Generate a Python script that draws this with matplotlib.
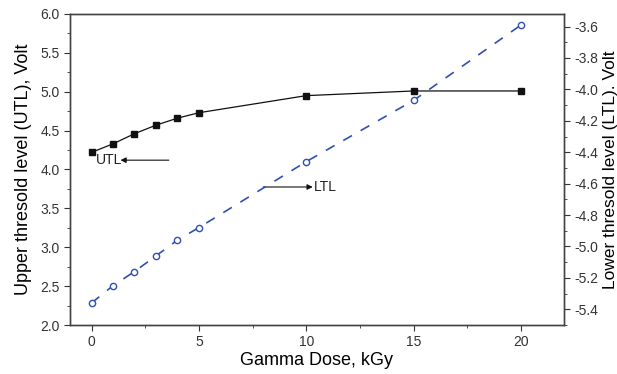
import matplotlib.pyplot as plt
from matplotlib.ticker import MultipleLocator

plt.rcParams['font.family'] = ['Liberation Sans', 'DejaVu Sans']
plt.rcParams['axes.unicode_minus'] = False

dose = [0, 1, 2, 3, 4, 5, 10, 15, 20]
utl = [4.22, 4.33, 4.46, 4.57, 4.66, 4.73, 4.95, 5.01, 5.01]
ltl = [-5.36, -5.25, -5.16, -5.06, -4.96, -4.88, -4.46, -4.07, -3.59]

fig = plt.figure(figsize=(6.17, 3.74), dpi=100)
ax = fig.add_axes([0.1135, 0.131, 0.8005, 0.8316])
ax2 = ax.twinx()

ax.plot(dose, utl, 's-', color='#111111', lw=0.9, ms=5)
ax2.plot(dose, ltl, 'o', ls=(0, (6, 6)), color='#3050b0', lw=1.2, ms=4.5,
         mfc='white', mec='#3050b0', mew=1.0)

ax.set_xlim(-1, 22)
ax.set_ylim(2.0, 6.0)
ax2.set_ylim(-5.5, -3.52)

ax.xaxis.set_major_locator(MultipleLocator(5))
ax.xaxis.set_minor_locator(MultipleLocator(2.5))
ax.yaxis.set_major_locator(MultipleLocator(0.5))
ax.yaxis.set_minor_locator(MultipleLocator(0.25))
ax2.yaxis.set_major_locator(MultipleLocator(0.2))
ax2.yaxis.set_minor_locator(MultipleLocator(0.1))
ax.yaxis.set_major_formatter('{x:.1f}')
ax2.yaxis.set_major_formatter('{x:.1f}')

for a in (ax, ax2):
    a.tick_params(which='both', direction='out', colors='#333333',
                  labelcolor='#333333', labelsize=10)
    a.tick_params(which='major', length=4)
    a.tick_params(which='minor', length=2.5)
    for s in a.spines.values():
        s.set_color('#444444')
        s.set_linewidth(1.0)

ax.set_xlabel('Gamma Dose, kGy', fontsize=13, labelpad=2)
ax.set_ylabel('Upper thresold level (UTL), Volt', fontsize=13, labelpad=6)
ax2.set_ylabel('Lower thresold level (LTL). Volt', fontsize=12.5, labelpad=3)

ax.annotate('', xy=(1.35, 4.12), xytext=(3.6, 4.12),
            arrowprops=dict(arrowstyle='-|>', color='#111111', lw=0.8,
                            mutation_scale=8, shrinkA=0, shrinkB=0))
ax.text(0.2, 4.12, 'UTL', fontsize=10, va='center', ha='left', color='#222222')
ax.annotate('', xy=(10.3, 3.775), xytext=(8.0, 3.775),
            arrowprops=dict(arrowstyle='-|>', color='#111111', lw=0.8,
                            mutation_scale=8, shrinkA=0, shrinkB=0))
ax.text(10.35, 3.775, 'LTL', fontsize=10, va='center', ha='left', color='#222222')

fig.savefig('out.png', dpi=100)
